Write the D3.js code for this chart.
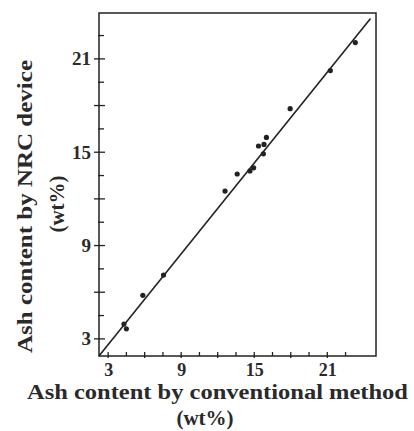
<!DOCTYPE html>
<html>
<head>
<meta charset="utf-8">
<script src="https://cdn.jsdelivr.net/npm/d3@7"></script>
<style>
  html, body { margin: 0; padding: 0; background: #fff; }
  svg { display: block; }
  text { font-family: "Liberation Serif", "Times New Roman", serif; fill: #2a2a2a; }
</style>
</head>
<body>
<script>
// Ash content (wt%): conventional method (x) vs NRC device (y)
const conventional = [4.3, 4.5, 5.85, 7.55, 12.6, 13.6, 14.65, 14.95, 15.35, 15.8, 15.75, 16.0, 17.95, 21.25, 23.3];
const nrcDevice    = [3.95, 3.65, 5.8, 7.1, 12.5, 13.6, 13.8, 14.0, 15.4, 15.5, 14.9, 15.95, 17.8, 20.25, 22.05];

// Fitted line end points
const fitX = [2.25, 24.55];
const fitY = [1.9, 23.6];

const tickLabels = [3, 9, 15, 21];
const majorTicks = [3, 6, 9, 12, 15, 18, 21];
const minorTicks = [4.5, 7.5, 10.5, 13.5, 16.5, 19.5, 22.5];

const xTitle = "Ash content by conventional method";
const yTitle = "Ash content by NRC device";
const unitTitle = "(wt%)";

const W = 414, H = 431;
const m = { left: 99, top: 13, right: 38, bottom: 75 };
const iw = W - m.left - m.right, ih = H - m.top - m.bottom;

const x = d3.scaleLinear().domain([2.25, 25]).range([0, iw]);
const y = d3.scaleLinear().domain([1.9, 23.95]).range([ih, 0]);

const svg = d3.select("body").append("svg").attr("width", W).attr("height", H);
const g = svg.append("g").attr("transform", `translate(${m.left},${m.top})`);

const ink = "#222";

// frame
g.append("rect").attr("x", 0).attr("y", 0).attr("width", iw).attr("height", ih)
  .attr("fill", "none").attr("stroke", ink).attr("stroke-width", 1.5);

// x axis: labelled ticks, then short inner ticks every 1.5
const xAxis = g.append("g").attr("transform", `translate(0,${ih})`)
  .call(d3.axisBottom(x).tickValues(tickLabels).tickSize(0).tickPadding(7).tickFormat(d3.format("d")));
xAxis.select(".domain").remove();
xAxis.selectAll("text").attr("font-size", 18).attr("font-weight", "bold").attr("fill", "#2a2a2a")
  .attr("font-family", "Liberation Serif, serif");

g.append("g").selectAll("line").data(majorTicks.concat(minorTicks)).join("line")
  .attr("x1", d => x(d)).attr("x2", d => x(d))
  .attr("y1", ih - 4).attr("y2", d => majorTicks.includes(d) ? ih + 2 : ih)
  .attr("stroke", ink).attr("stroke-width", 1.3);

// y axis: crossing major ticks, inner minor ticks
const yAxis = g.append("g")
  .call(d3.axisLeft(y).tickValues(tickLabels).tickSize(0).tickPadding(8).tickFormat(d3.format("d")));
yAxis.select(".domain").remove();
yAxis.selectAll("text").attr("font-size", 19).attr("font-weight", "bold").attr("fill", "#2a2a2a")
  .attr("font-family", "Liberation Serif, serif");

g.append("g").selectAll("line").data(majorTicks).join("line")
  .attr("x1", -5).attr("x2", 6).attr("y1", d => y(d)).attr("y2", d => y(d))
  .attr("stroke", ink).attr("stroke-width", 1.3);
g.append("g").selectAll("line").data(minorTicks).join("line")
  .attr("x1", -1).attr("x2", 5).attr("y1", d => y(d)).attr("y2", d => y(d))
  .attr("stroke", ink).attr("stroke-width", 1.3);

// fitted line
g.append("line")
  .attr("x1", x(fitX[0])).attr("y1", y(fitY[0]))
  .attr("x2", x(fitX[1])).attr("y2", y(fitY[1]))
  .attr("stroke", ink).attr("stroke-width", 1.6);

// samples
g.append("g").selectAll("circle").data(conventional.map((v, i) => [v, nrcDevice[i]])).join("circle")
  .attr("cx", d => x(d[0])).attr("cy", d => y(d[1])).attr("r", 2.6).attr("fill", ink);

// axis titles
svg.append("text").attr("x", 27).attr("y", 399)
  .attr("font-size", 20).attr("font-weight", "bold")
  .attr("textLength", 381).attr("lengthAdjust", "spacingAndGlyphs").text(xTitle);
svg.append("text").attr("x", 205).attr("y", 425).attr("text-anchor", "middle")
  .attr("font-size", 21).attr("font-weight", "bold").text(unitTitle);

svg.append("text").attr("transform", "translate(32,206.5) rotate(-90)").attr("text-anchor", "middle")
  .attr("font-size", 21).attr("font-weight", "bold")
  .attr("textLength", 293).attr("lengthAdjust", "spacingAndGlyphs").text(yTitle);
svg.append("text").attr("transform", "translate(64,204) rotate(-90)").attr("text-anchor", "middle")
  .attr("font-size", 21).attr("font-weight", "bold").text(unitTitle);
</script>
</body>
</html>
